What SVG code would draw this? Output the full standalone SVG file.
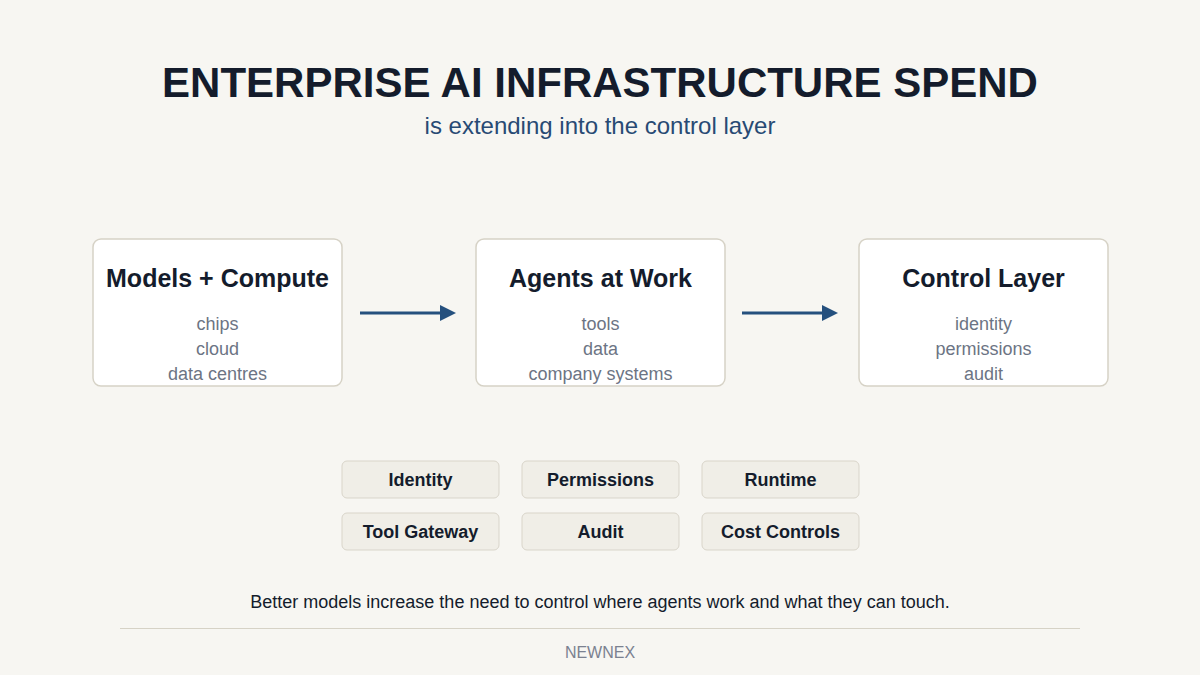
<svg xmlns="http://www.w3.org/2000/svg" width="1200" height="675" viewBox="0 0 1200 675">
<style>
text{font-family:"Liberation Sans",Arial,sans-serif;text-anchor:middle}
.title{font-size:42px;font-weight:bold;fill:#141c2c}
.sub{font-size:24px;fill:#284a74}
.card{fill:#ffffff;stroke:#d6d2c6;stroke-width:1.5}
.ct{font-size:25px;font-weight:bold;fill:#141c2c}
.ci{font-size:18px;fill:#6c7484}
.pill{fill:#f0eee7;stroke:#d9d5ca;stroke-width:1}
.pt{font-size:18px;font-weight:bold;fill:#141c2c}
.conn{stroke:#25507e;stroke-width:3;fill:none}
.foot{font-size:18px;fill:#141c2c}
.brand{font-size:16px;fill:#7b8190}
</style>
<defs>
<marker id="ah" markerWidth="5.4" markerHeight="5.4" refX="3.4" refY="2.7" orient="auto" markerUnits="strokeWidth">
<path d="M0,0 L5.4,2.7 L0,5.4 Z" fill="#25507e"/>
</marker>
</defs>
<rect width="1200" height="675" fill="#f7f6f2"/>
<text class="title" x="600" y="97">ENTERPRISE AI INFRASTRUCTURE SPEND</text>
<text class="sub" x="600" y="134">is extending into the control layer</text>
<g id="node-models">
<rect class="card" x="93" y="239" width="249" height="147" rx="8"/>
<text class="ct" x="217.5" y="287">Models + Compute</text>
<text class="ci" x="217.5" y="330">chips</text>
<text class="ci" x="217.5" y="355">cloud</text>
<text class="ci" x="217.5" y="380">data centres</text>
</g>
<g id="node-agents">
<rect class="card" x="476" y="239" width="249" height="147" rx="8"/>
<text class="ct" x="600.5" y="287">Agents at Work</text>
<text class="ci" x="600.5" y="330">tools</text>
<text class="ci" x="600.5" y="355">data</text>
<text class="ci" x="600.5" y="380">company systems</text>
</g>
<g id="node-control">
<rect class="card" x="859" y="239" width="249" height="147" rx="8"/>
<text class="ct" x="983.5" y="287">Control Layer</text>
<text class="ci" x="983.5" y="330">identity</text>
<text class="ci" x="983.5" y="355">permissions</text>
<text class="ci" x="983.5" y="380">audit</text>
</g>
<g id="connectors">
<line class="conn" x1="360" y1="313" x2="450" y2="313" marker-end="url(#ah)"/>
<line class="conn" x1="742" y1="313" x2="832" y2="313" marker-end="url(#ah)"/>
</g>
<g id="pill-identity"><rect class="pill" x="342" y="461" width="157" height="37" rx="5"/><text class="pt" x="420.5" y="486">Identity</text></g>
<g id="pill-permissions"><rect class="pill" x="522" y="461" width="157" height="37" rx="5"/><text class="pt" x="600.5" y="486">Permissions</text></g>
<g id="pill-runtime"><rect class="pill" x="702" y="461" width="157" height="37" rx="5"/><text class="pt" x="780.5" y="486">Runtime</text></g>
<g id="pill-gateway"><rect class="pill" x="342" y="513" width="157" height="37" rx="5"/><text class="pt" x="420.5" y="538">Tool Gateway</text></g>
<g id="pill-audit"><rect class="pill" x="522" y="513" width="157" height="37" rx="5"/><text class="pt" x="600.5" y="538">Audit</text></g>
<g id="pill-cost"><rect class="pill" x="702" y="513" width="157" height="37" rx="5"/><text class="pt" x="780.5" y="538">Cost Controls</text></g>
<text class="foot" x="600" y="608">Better models increase the need to control where agents work and what they can touch.</text>
<line x1="120" y1="628.5" x2="1080" y2="628.5" stroke="#d6d2c6" stroke-width="1"/>
<text class="brand" x="600" y="658">NEWNEX</text>
</svg>
